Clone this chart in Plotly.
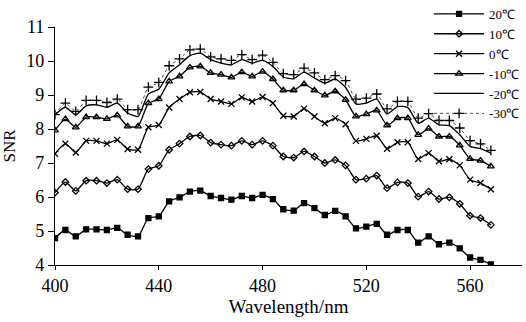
import plotly.graph_objects as go

wavelength = list(range(400, 569, 4))

snr_20 = [4.79, 5.03, 4.84, 5.05, 5.05, 5.03, 5.09, 4.89, 4.84, 5.38, 5.43, 5.87, 5.99, 6.16, 6.19, 6.03, 5.97, 5.92, 6.03, 5.97, 6.06,
          5.94, 5.64, 5.60, 5.82, 5.67, 5.47, 5.59, 5.43, 5.08, 5.13, 5.21, 4.89, 5.03, 5.03, 4.66, 4.84, 4.61, 4.66, 4.49, 4.22, 4.15, 4.02]
snr_10 = [6.13, 6.44, 6.18, 6.48, 6.48, 6.41, 6.51, 6.23, 6.23, 6.82, 6.92, 7.39, 7.57, 7.78, 7.81, 7.60, 7.54, 7.51, 7.65, 7.54, 7.65,
          7.51, 7.19, 7.16, 7.34, 7.19, 7.00, 7.09, 6.93, 6.51, 6.54, 6.63, 6.26, 6.43, 6.41, 6.01, 6.16, 5.94, 5.99, 5.80, 5.45, 5.38, 5.18]
snr_0 = [7.27, 7.57, 7.31, 7.65, 7.65, 7.57, 7.68, 7.41, 7.39, 8.05, 8.12, 8.63, 8.88, 9.08, 9.09, 8.88, 8.81, 8.74, 8.93, 8.81, 8.94,
         8.76, 8.39, 8.37, 8.60, 8.37, 8.17, 8.32, 8.14, 7.65, 7.71, 7.80, 7.42, 7.61, 7.61, 7.12, 7.29, 7.05, 7.11, 6.93, 6.51, 6.41, 6.23]
snr_m10 = [7.96, 8.29, 8.05, 8.35, 8.35, 8.30, 8.40, 8.08, 8.08, 8.76, 8.88, 9.40, 9.55, 9.81, 9.84, 9.65, 9.60, 9.52, 9.67, 9.55, 9.69,
           9.47, 9.14, 9.14, 9.32, 9.14, 8.99, 9.11, 8.86, 8.37, 8.44, 8.55, 8.11, 8.32, 8.32, 7.83, 8.01, 7.78, 7.78, 7.52, 7.12, 7.07, 6.90]
snr_m20 = [8.42, 8.64, 8.42, 8.68, 8.71, 8.64, 8.76, 8.47, 8.37, 9.03, 9.17, 9.65, 9.89, 10.16, 10.23, 10.04, 9.94, 9.89, 10.04, 9.94, 10.02,
           9.84, 9.53, 9.48, 9.67, 9.50, 9.35, 9.47, 9.22, 8.74, 8.76, 8.88, 8.44, 8.66, 8.63, 8.17, 8.32, 8.12, 8.10, 7.83, 7.49, 7.42, 7.29]
snr_m30 = [8.42, 8.76, 8.52, 8.84, 8.84, 8.78, 8.88, 8.57, 8.57, 9.23, 9.37, 9.86, 10.06, 10.33, 10.35, 10.12, 10.06, 10.02, 10.19, 10.04, 10.17,
           9.96, 9.63, 9.60, 9.79, 9.65, 9.45, 9.57, 9.42, 8.88, 8.91, 9.03, 8.59, 8.81, 8.81, 8.32, 8.45, 8.25, 8.25, 8.03, 7.66, 7.56, 7.37]

names = ["20℃", "10℃", "0℃", "-10℃", "-20℃", "-30℃"]
series = [snr_20, snr_10, snr_0, snr_m10, snr_m20, snr_m30]
symbols = ["square", "diamond-open", "x-thin", "triangle-up-open", None, "cross-thin"]
sizes = [5, 5, 6, 6, 0, 7]
dashes = ["solid", "solid", "solid", "solid", "solid", "dot"]

fig = go.Figure()
for name, ys, sym, sz, dash in zip(names, series, symbols, sizes, dashes):
    if sym is None:
        fig.add_trace(go.Scatter(x=wavelength, y=ys, name=name, mode="lines",
                                 line=dict(color="black", width=1.3, shape="spline", smoothing=0.6)))
    else:
        fig.add_trace(go.Scatter(
            x=wavelength, y=ys, name=name,
            mode="lines+markers",
            line=dict(color="black", width=1.3 if dash == "solid" else 0.7, dash=dash,
                      shape="spline", smoothing=0.6),
            marker=dict(symbol=sym, size=sz, color="black",
                        line=dict(color="black", width=1.3)),
        ))

fig.update_layout(
    width=526, height=322,
    margin=dict(l=55, r=4, t=27, b=57, autoexpand=False),
    paper_bgcolor="white", plot_bgcolor="white",
    font=dict(family="Liberation Serif, Times New Roman, serif", color="black", size=16),
    showlegend=True,
    legend=dict(x=0.801, y=1.118, xanchor="left", yanchor="top",
                bgcolor="rgba(0,0,0,0)", font=dict(size=13),
                itemwidth=50, tracegroupgap=0),
)
fig.update_xaxes(range=[400, 580], tickvals=[400, 440, 480, 520, 560],
                 showline=True, linecolor="black", linewidth=1.2,
                 ticks="outside", ticklen=4, tickcolor="black",
                 showgrid=False, zeroline=False,
                 title=dict(text="Wavelength/nm", font=dict(size=19), standoff=0),
                 tickfont=dict(size=18))
fig.update_yaxes(range=[4, 11], dtick=1,
                 showline=True, linecolor="black", linewidth=1.2,
                 ticks="outside", ticklen=6, tickcolor="black",
                 showgrid=False, zeroline=False,
                 title=dict(text="SNR", font=dict(size=17), standoff=6),
                 tickfont=dict(size=18))

fig.write_html("out.html", config={"displayModeBar": False},
               post_script="document.body.style.margin='0';")
